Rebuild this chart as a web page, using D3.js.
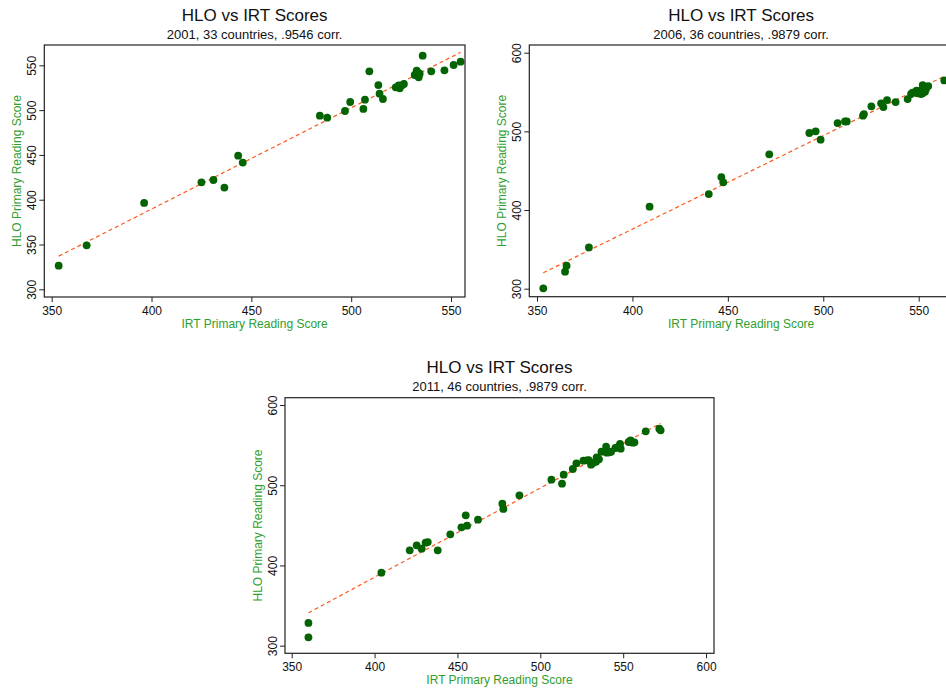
<!DOCTYPE html>
<html>
<head>
<meta charset="utf-8">
<script src="https://cdn.jsdelivr.net/npm/d3@7"></script>
<style>
  html, body { margin: 0; padding: 0; background: #fff; }
  svg { display: block; font-family: "Liberation Sans", Arial, Helvetica, sans-serif; }
</style>
</head>
<body>
<svg id="chart" width="946" height="692"></svg>
<script>
// IRT vs HLO primary reading scores, one point per country
const irt2001 = [353.5, 367.5, 396.3, 425.0, 431.0, 436.5, 443.4, 445.7, 484.3, 488.0,
  496.9, 499.5, 506.1, 506.9, 509.1, 513.6, 514.2, 515.9, 522.3, 523.8,
  524.3, 525.4, 526.4, 531.8, 532.8, 533.5, 533.8, 534.3, 535.8, 540.1,
  546.7, 551.3, 554.8];
const hlo2001 = [326.4, 349.1, 396.4, 419.4, 422.0, 413.5, 449.2, 441.4, 493.8, 491.6,
  499.0, 509.1, 501.3, 511.7, 543.3, 528.0, 518.4, 512.4, 525.4, 527.7,
  524.3, 527.7, 529.2, 539.2, 544.0, 541.8, 536.6, 540.6, 560.8, 543.3,
  544.4, 550.4, 554.1];

const irt2006 = [353.3, 364.7, 365.5, 377.2, 409.0, 440.0, 446.6, 447.6, 471.7, 492.7,
  496.0, 498.6, 507.5, 511.4, 512.3, 520.8, 521.3, 525.2, 530.3, 531.5,
  533.4, 537.9, 544.2, 546.0, 546.8, 548.2, 548.9, 549.4, 550.3, 551.2,
  552.1, 552.1, 553.3, 553.8, 555.0, 563.4];
const hlo2006 = [300.4, 321.6, 329.2, 352.5, 404.2, 420.3, 441.9, 435.2, 470.8, 497.9,
  500.0, 489.4, 510.6, 512.7, 512.7, 519.9, 522.0, 531.8, 535.6, 530.9,
  539.8, 537.3, 541.1, 547.5, 549.2, 550.0, 551.7, 548.3, 551.3, 547.5,
  558.9, 548.3, 550.4, 553.4, 557.6, 564.8];

const irt2011 = [360.1, 360.1, 404.1, 421.2, 425.4, 428.4, 430.8, 432.1, 438.1, 445.7,
  452.4, 455.0, 455.8, 462.4, 477.1, 477.7, 487.4, 506.7, 513.1, 514.1,
  519.6, 521.8, 526.0, 528.0, 529.2, 530.6, 532.0, 533.6, 534.0, 535.4,
  536.9, 539.7, 540.1, 541.7, 542.7, 545.3, 546.7, 548.1, 548.5, 553.3,
  554.5, 555.8, 556.8, 563.6, 571.8, 572.6];
const hlo2011 = [328.3, 310.4, 391.0, 418.8, 425.1, 420.9, 428.4, 429.2, 418.8, 438.8,
  447.5, 462.5, 449.6, 457.1, 477.0, 470.4, 487.4, 506.9, 501.9, 513.2,
  520.2, 527.3, 530.6, 531.0, 531.4, 525.6, 528.1, 529.4, 534.8, 532.3,
  541.8, 548.1, 540.6, 541.0, 541.8, 546.4, 547.6, 551.4, 545.6, 553.9,
  556.0, 553.0, 553.5, 567.2, 570.5, 568.4];

const subtitles = ["2001, 33 countries, .9546 corr.",
                   "2006, 36 countries, .9879 corr.",
                   "2011, 46 countries, .9879 corr."];
const xTicks2001 = [350, 400, 450, 500, 550];
const yTicks2001 = [300, 350, 400, 450, 500, 550];
const xTicks2006 = [350, 400, 450, 500, 550];
const yTicks2006 = [300, 400, 500, 600];
const xTicks2011 = [350, 400, 450, 500, 550, 600];
const yTicks2011 = [300, 400, 500, 600];

const titleText = "HLO vs IRT Scores";
const xTitle = "IRT Primary Reading Score";
const yTitle = "HLO Primary Reading Score";

const DOT = "#046404";
const AXIS_GREEN = "#2f9e2f";
const FIT = "#ff5a1e";

// Panel layout: plot frame in pixels and the value range it spans
const panels = [
  { x: irt2001, y: hlo2001, sub: subtitles[0], xt: xTicks2001, yt: yTicks2001,
    box: [44.3, 45, 465, 297], xd: [346.3, 557.0], yd: [291.4, 572.7] },
  { x: irt2006, y: hlo2006, sub: subtitles[1], xt: xTicks2006, yt: yTicks2006,
    box: [529.3, 45, 953, 296.7], xd: [345.97, 567.97], yd: [289.8, 609.8] },
  { x: irt2011, y: hlo2011, sub: subtitles[2], xt: xTicks2011, yt: yTicks2011,
    box: [285, 397.7, 714, 653.3], xd: [345.96, 604.8], yd: [290.5, 609.1] }
];

const svg = d3.select("#chart");

function olsFit(xs, ys) {
  const mx = d3.mean(xs), my = d3.mean(ys);
  let sxy = 0, sxx = 0;
  xs.forEach((v, i) => { sxy += (v - mx) * (ys[i] - my); sxx += (v - mx) * (v - mx); });
  const b = sxy / sxx;
  return { a: my - b * mx, b };
}

panels.forEach((p, idx) => {
  const [L, T, R, B] = p.box;
  const xs = d3.scaleLinear().domain(p.xd).range([L, R]);
  const ys = d3.scaleLinear().domain(p.yd).range([B, T]);
  const g = svg.append("g");
  const cx = (L + R) / 2, cy = (T + B) / 2;

  // titles
  g.append("text").attr("x", cx).attr("y", T - 24.3)
    .attr("text-anchor", "middle").attr("font-size", 17).attr("fill", "#111")
    .text(titleText);
  g.append("text").attr("x", cx).attr("y", T - 6.5)
    .attr("text-anchor", "middle").attr("font-size", 13).attr("fill", "#111")
    .text(p.sub);

  // clip for marks
  const clipId = "clip" + idx;
  svg.append("clipPath").attr("id", clipId)
    .append("rect").attr("x", L).attr("y", T).attr("width", R - L).attr("height", B - T);
  const marks = g.append("g").attr("clip-path", `url(#${clipId})`);

  // fitted line across the observed x range
  const fit = olsFit(p.x, p.y);
  const x0 = d3.min(p.x), x1 = d3.max(p.x);
  marks.append("line")
    .attr("x1", xs(x0)).attr("y1", ys(fit.a + fit.b * x0))
    .attr("x2", xs(x1)).attr("y2", ys(fit.a + fit.b * x1))
    .attr("stroke", FIT).attr("stroke-width", 1.2).attr("stroke-dasharray", "4,3");

  // country points
  marks.selectAll("circle").data(p.x.map((v, i) => [v, p.y[i]])).join("circle")
    .attr("cx", d => xs(d[0])).attr("cy", d => ys(d[1])).attr("r", 3.9)
    .attr("fill", DOT);

  // frame
  g.append("rect").attr("x", L).attr("y", T).attr("width", R - L).attr("height", B - T)
    .attr("fill", "none").attr("stroke", "#222").attr("stroke-width", 1.2);

  // x axis
  const xa = g.append("g").attr("transform", `translate(0,${B})`)
    .call(d3.axisBottom(xs).tickValues(p.xt).tickSize(5).tickFormat(d3.format("d")));
  xa.select(".domain").remove();
  xa.selectAll("line").attr("stroke", "#222");
  xa.selectAll("text").attr("y", 18).attr("dy", 0)
    .attr("font-size", 12).attr("fill", "#111").attr("font-family", null);

  // y axis with vertical labels
  const ya = g.append("g").attr("transform", `translate(${L},0)`)
    .call(d3.axisLeft(ys).tickValues(p.yt).tickSize(5).tickFormat(d3.format("d")));
  ya.select(".domain").remove();
  ya.selectAll("line").attr("stroke", "#222");
  ya.selectAll("text").attr("transform", "rotate(-90)")
    .attr("x", 0).attr("y", -8.5).attr("dy", 0).attr("text-anchor", "middle")
    .attr("font-size", 12).attr("fill", "#111").attr("font-family", null);

  // axis titles
  g.append("text").attr("x", cx).attr("y", B + 31)
    .attr("text-anchor", "middle").attr("font-size", 12).attr("fill", AXIS_GREEN)
    .text(xTitle);
  g.append("text").attr("transform", `translate(${L - 23.5},${cy}) rotate(-90)`)
    .attr("text-anchor", "middle").attr("font-size", 12).attr("fill", AXIS_GREEN)
    .text(yTitle);
});
</script>
</body>
</html>
